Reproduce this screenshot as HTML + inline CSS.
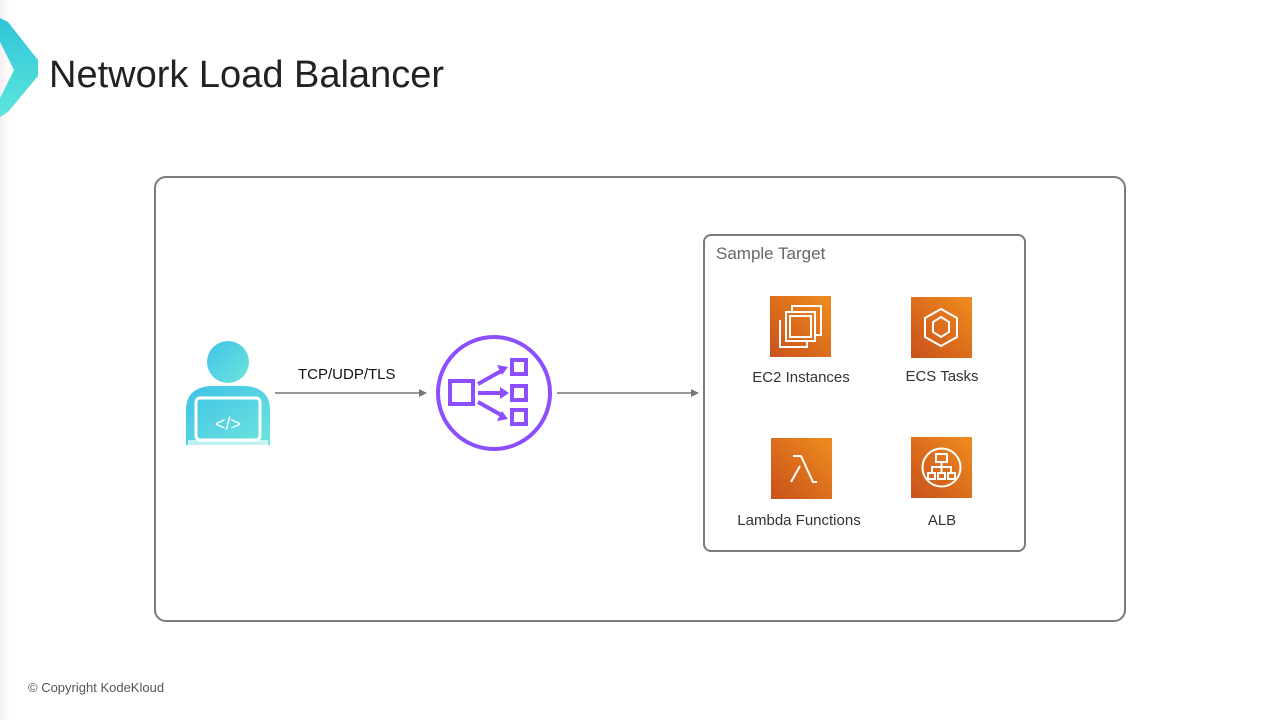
<!DOCTYPE html>
<html><head><meta charset="utf-8"><style>
body{margin:0;width:1280px;height:720px;background:#fff;position:relative;overflow:hidden;font-family:"Liberation Sans",sans-serif}
.abs{position:absolute}
.lbl{position:absolute;font-size:15px;color:#333;text-align:center;width:160px}
.ic{position:absolute;width:61px;height:61px;background:linear-gradient(45deg,#c8511b,#f08c1e)}
</style></head><body>
<div class="abs" style="left:0;top:0;width:10px;height:720px;background:linear-gradient(90deg,#f6eef3,#fff)"></div>
<svg class="abs" style="left:0;top:0" width="60" height="130">
<defs><linearGradient id="g" x1="0" y1="0" x2="0" y2="1"><stop offset="0" stop-color="#2ec4d8"/><stop offset="1" stop-color="#5ee6dc"/></linearGradient></defs>
<polygon points="0,18 8,22 38,60 38,76 8,112 0,117 0,98 14,70 0,42" fill="url(#g)"/>
</svg>
<div class="abs" style="left:49px;top:54px;font-size:38px;color:#222">Network Load Balancer</div>
<div class="abs" style="left:154px;top:176px;width:968px;height:442px;border:2px solid #7a7a7a;border-radius:12px"></div>
<div class="abs" style="left:703px;top:234px;width:319px;height:314px;border:2px solid #7a7a7a;border-radius:8px"></div>
<div class="abs" style="left:716px;top:244px;font-size:17px;color:#666">Sample Target</div>
<svg class="abs" style="left:0;top:0" width="1280" height="720">
<defs><linearGradient id="p" x1="0" y1="0" x2="1" y2="1"><stop offset="0" stop-color="#3ec3e8"/><stop offset="1" stop-color="#6fe4dc"/></linearGradient></defs>
<circle cx="228" cy="362" r="21" fill="url(#p)"/>
<path d="M186,445 L186,410 Q186,388 210,386 L246,386 Q270,388 270,410 L270,445 Z" fill="url(#p)"/>
<rect x="196" y="398" width="64" height="42" rx="4" fill="none" stroke="#fff" stroke-width="3"/>
<rect x="188" y="440" width="80" height="5" fill="#fff" opacity=".6"/>
<text x="228" y="430" font-size="18" fill="#fff" text-anchor="middle" font-family="Liberation Sans">&lt;/&gt;</text>
<line x1="275" y1="393" x2="420" y2="393" stroke="#777" stroke-width="1.5"/>
<polygon points="427,393 419,389 419,397" fill="#777"/>
<line x1="557" y1="393" x2="692" y2="393" stroke="#777" stroke-width="1.5"/>
<polygon points="699,393 691,389 691,397" fill="#777"/>
<circle cx="494" cy="393" r="56" fill="none" stroke="#8c4fff" stroke-width="4"/>
<g fill="none" stroke="#8c4fff" stroke-width="4">
<rect x="450" y="381" width="23" height="23"/>
<rect x="512" y="360" width="14" height="14"/>
<rect x="512" y="386" width="14" height="14"/>
<rect x="512" y="410" width="14" height="14"/>
<path d="M478,384 L503,370 M478,393 L503,393 M478,402 L503,416"/>
</g>
<g fill="#8c4fff"><polygon points="508,367 497,365 502,375"/><polygon points="509,393 500,387 500,399"/><polygon points="508,419 502,411 497,421"/></g>
</svg>
<div class="abs" style="left:298px;top:366px;font-size:15px;color:#111">TCP/UDP/TLS</div>
<div class="ic" style="left:770px;top:296px"><svg width="61" height="61" fill="none" stroke="#fff" stroke-width="2"><path d="M22,16 V10 H51 V39 H45"/><rect x="16" y="16" width="29" height="29"/><rect x="20" y="20" width="21" height="21"/><path d="M10,24 V51 H37 V45"/></svg></div>
<div class="ic" style="left:911px;top:297px"><svg width="61" height="61" fill="none" stroke="#fff" stroke-width="2"><polygon points="30,12 46,21 46,40 30,49 14,40 14,21"/><polygon points="30,20 38,25 38,35 30,40 22,35 22,25"/></svg></div>
<div class="ic" style="left:771px;top:438px"><svg width="61" height="61" fill="none" stroke="#fff" stroke-width="2"><path d="M22,18 H30 L42,44 H46 M29,28 L20,44"/></svg></div>
<div class="ic" style="left:911px;top:437px"><svg width="61" height="61" fill="none" stroke="#fff" stroke-width="2"><circle cx="30.5" cy="30.5" r="19"/><rect x="25" y="17" width="11" height="8"/><path d="M30.5,25 V30 M21,36 V30 H40 V36 M30.5,30 V36"/><rect x="17" y="36" width="7" height="6"/><rect x="27" y="36" width="7" height="6"/><rect x="37" y="36" width="7" height="6"/></svg></div>
<div class="lbl" style="left:721px;top:369px">EC2 Instances</div>
<div class="lbl" style="left:862px;top:368px">ECS Tasks</div>
<div class="lbl" style="left:719px;top:512px">Lambda Functions</div>
<div class="lbl" style="left:862px;top:512px">ALB</div>
<div class="abs" style="left:28px;top:680px;font-size:13px;color:#555">© Copyright KodeKloud</div>
</body></html>
